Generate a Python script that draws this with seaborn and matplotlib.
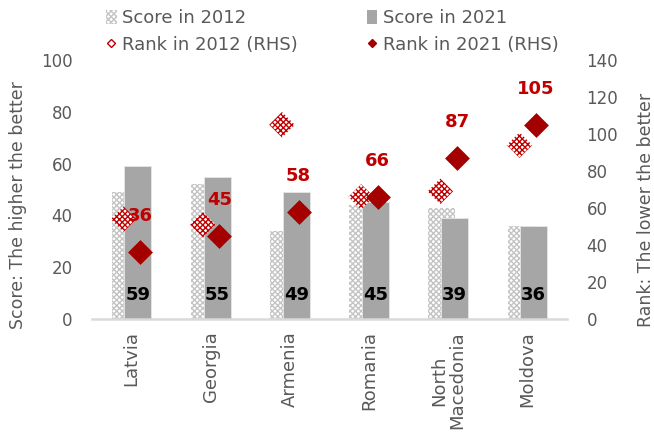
import numpy as np
import pandas as pd
import matplotlib
matplotlib.use('Agg')
import matplotlib.pyplot as plt
import seaborn as sns
from matplotlib.patches import Patch
from matplotlib.lines import Line2D

countries = ['Latvia', 'Georgia', 'Armenia', 'Romania', 'North\nMacedonia', 'Moldova']
score_2012 = [49, 52, 34, 44, 43, 36]
score_2021 = [59, 55, 49, 45, 39, 36]
rank_2012 = [54, 51, 105, 66, 69, 94]
rank_2021 = [36, 45, 58, 66, 87, 105]

sns.set_style('white')
plt.rcParams['font.family'] = ['DejaVu Sans']
plt.rcParams['hatch.linewidth'] = 1.0

GREY_TXT = '#595959'
RED = '#c00000'
DARK_RED = '#a50000'

pos = np.arange(len(countries))
df = pd.DataFrame({'pos': pos, 'country': countries,
                   's12': score_2012, 's21': score_2021,
                   'r12': rank_2012, 'r21': rank_2021})

fig = plt.figure(figsize=(6.54, 4.33), dpi=100)
ax = fig.add_axes([92 / 654, 114 / 433, 475 / 654, 259 / 433])

# score bars (overlapping, 2021 in front)
sns.barplot(x=df['pos'] - 0.08, y=df['s12'], native_scale=True, width=0.34,
            color='white', saturation=1, edgecolor='#c4c4c4', hatch='xxxxxx',
            linewidth=0, ax=ax, zorder=1)
sns.barplot(x=df['pos'] + 0.08, y=df['s21'], native_scale=True, width=0.34,
            color='#a6a6a6', saturation=1, edgecolor='#e6e6e6', linewidth=0.6,
            ax=ax, zorder=2)

for x, v in zip(df['pos'] + 0.08, df['s21']):
    ax.annotate(str(v), (x, 0), xytext=(0, 17), textcoords='offset points',
                ha='center', va='center', fontsize=13, fontweight='bold',
                color='black', zorder=5)

ax.set_xlim(-0.5, 5.5)
ax.set_ylim(0, 100)
ax.set_yticks(range(0, 101, 20))
ax.set_xticks(pos)
ax.set_xticklabels(countries, rotation=90, fontsize=13, color=GREY_TXT,
                   linespacing=0.95)
ax.tick_params(axis='x', length=0, pad=9)
ax.tick_params(axis='y', length=0, pad=14, labelsize=12, labelcolor=GREY_TXT)
ax.set_xlabel('')
ax.set_ylabel('Score: The higher the better', fontsize=12.5, color=GREY_TXT)
ax.yaxis.set_label_coords(-0.137, 0.44)
for s in ['top', 'right', 'left']:
    ax.spines[s].set_visible(False)
ax.spines['bottom'].set_color('#d9d9d9')
ax.spines['bottom'].set_linewidth(1.8)

# ranks on the right axis
ax2 = ax.twinx()
sns.scatterplot(x=df['pos'] - 0.1, y=df['r12'], marker='D', s=170,
                color='white', edgecolor=RED, hatch='xxxxxx', linewidth=0,
                ax=ax2, zorder=3)
sns.scatterplot(x=df['pos'] + 0.11, y=df['r21'], marker='D', s=160,
                color=DARK_RED, edgecolor=DARK_RED, linewidth=0,
                ax=ax2, zorder=4)
for x, v in zip(df['pos'] + 0.11, df['r21']):
    ax2.annotate(str(v), (x, v), xytext=(0, 26), textcoords='offset points',
                 ha='center', va='center', fontsize=13, fontweight='bold',
                 color=RED)

ax2.set_xlim(-0.5, 5.5)
ax2.set_ylim(0, 140)
ax2.set_yticks(range(0, 141, 20))
ax2.tick_params(axis='y', length=0, pad=14, labelsize=12, labelcolor=GREY_TXT)
ax2.set_ylabel('Rank: The lower the better', fontsize=12.5, color=GREY_TXT)
ax2.yaxis.set_label_coords(1.147, 0.42)
for s in ['top', 'right', 'left', 'bottom']:
    ax2.spines[s].set_visible(False)

handles = [
    Patch(facecolor='white', edgecolor='#c4c4c4', hatch='xxxxxx', linewidth=0),
    Line2D([], [], marker='D', ls='', markersize=4, markerfacecolor='white',
           markeredgecolor=RED, markeredgewidth=1),
    Patch(facecolor='#a6a6a6', edgecolor='none'),
    Line2D([], [], marker='D', ls='', markersize=4, markerfacecolor=DARK_RED,
           markeredgecolor=DARK_RED),
]
labels = ['Score in 2012', 'Rank in 2012 (RHS)', 'Score in 2021', 'Rank in 2021 (RHS)']
leg = fig.legend(handles, labels, ncol=2, loc='upper left',
                 bbox_to_anchor=(106 / 654, 1 - 9 / 433), frameon=False,
                 fontsize=13, handlelength=0.6, handleheight=0.8,
                 handletextpad=0.3, columnspacing=3.8, labelspacing=0.5,
                 borderaxespad=0, borderpad=0)
for t in leg.get_texts():
    t.set_color(GREY_TXT)

fig.savefig('out.png', dpi=100)
